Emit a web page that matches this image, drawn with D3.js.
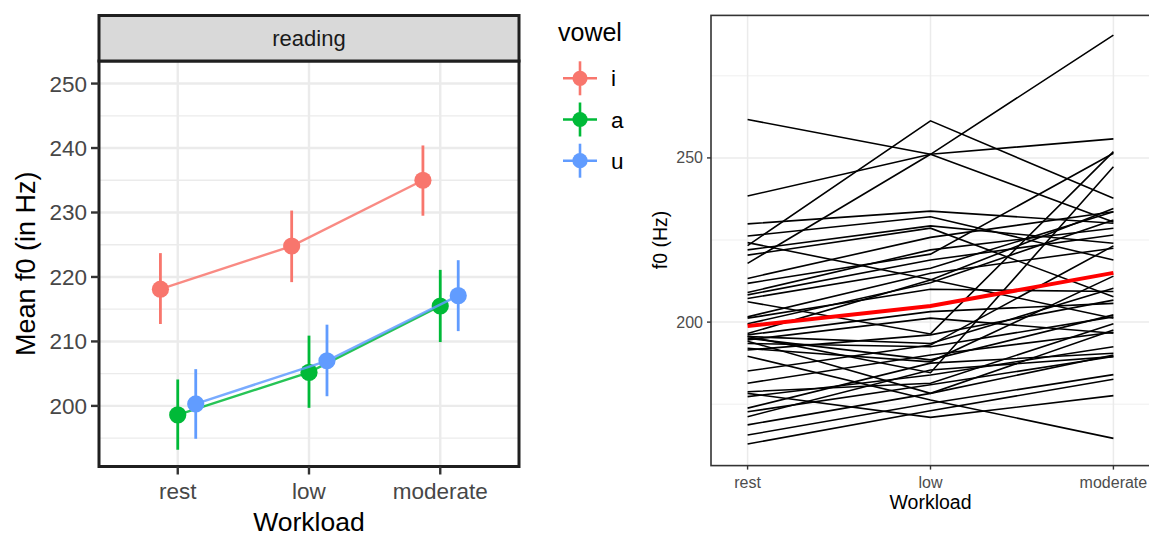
<!DOCTYPE html>
<html>
<head>
<meta charset="utf-8">
<script src="https://cdn.jsdelivr.net/npm/d3@7"></script>
<style>
  body { margin: 0; background: #fff; }
  svg { display: block; }
  text { font-family: "Liberation Sans", Arial, sans-serif; }
</style>
</head>
<body>
<svg id="chart" width="1149" height="536"></svg>
<script>
// ---- data ---------------------------------------------------------------
const workload = ["rest", "low", "moderate"];

// panel A: mean f0 per vowel with error bars (reading task)
const vowels = ["i", "a", "u"];
const vowelColors = ["#F8766D", "#00BA38", "#619CFF"];
const meanI = [218.1, 224.8, 235.0];
const lowI  = [212.7, 219.2, 229.5];
const highI = [223.7, 230.3, 240.4];
const meanA = [198.6, 205.2, 215.5];
const lowA  = [193.2, 199.7, 209.9];
const highA = [204.1, 210.9, 221.1];
const meanU = [200.3, 207.0, 217.1];
const lowU  = [194.9, 201.5, 211.6];
const highU = [205.7, 212.6, 222.6];
const leftYTicks = [200, 210, 220, 230, 240, 250];

// panel B: one line per speaker, f0 at each workload level
const restF0 = [261.7, 238.4, 217.9, 223.3, 229.9, 226.2, 224.2, 222.0, 220.4, 213.3,
                211.8, 206.2, 208.3, 207.2, 209.0, 201.6, 201.2, 199.5, 196.5, 196.1,
                195.6, 195.6, 195.1, 194.6, 194.2, 193.5, 192.0, 191.5, 189.6, 185.1,
                181.4, 178.8, 178.3, 177.3, 173.8, 172.7, 171.2, 168.7, 165.6, 162.9];
const lowF0  = [251.1, 251.1, 251.1, 261.3, 233.8, 232.1, 213.0, 229.3, 228.6, 225.8,
                220.7, 196.4, 218.9, 216.4, 222.0, 214.9, 210.0, 212.0, 212.8, 203.2,
                184.6, 193.5, 188.5, 201.2, 178.3, 192.5, 187.9, 196.1, 176.3, 193.0,
                190.0, 181.4, 171.0, 183.9, 187.5, 180.9, 185.4, 178.3, 175.3, 173.0];
const modF0  = [230.5, 255.8, 287.4, 237.7, 230.1, 218.9, 201.2, 224.0, 207.7, 233.6,
                251.4, 251.9, 226.5, 233.6, 228.6, 222.5, 209.3, 231.1, 234.6, 205.7,
                247.3, 210.3, 202.2, 196.6, 197.6, 201.6, 214.0, 206.7, 164.6, 223.2,
                196.9, 199.5, 177.6, 192.5, 190.5, 189.5, 189.5, 190.0, 184.0, 182.6];
const trendF0 = [198.8, 204.9, 215.0];
const rightYMajor = [200, 250];
const rightYMinor = [175, 225, 275];

// ---- setup --------------------------------------------------------------
const svg = d3.select("#chart");
const GRID = "#EBEBEB";

// ======================= panel A =========================================
const A = { x0: 99, x1: 519, y0: 61, y1: 466.5, stripTop: 15.5 };
const ax = d3.scaleLinear().domain([0.4, 3.6]).range([A.x0, A.x1]);
const ay = d3.scaleLinear().domain([190.6, 253.5]).range([A.y1, A.y0]);
const gA = svg.append("g");

// minor then major grid
const minorA = d3.range(195, 255, 10);
gA.selectAll("line.minor").data(minorA).join("line")
  .attr("x1", A.x0).attr("x2", A.x1)
  .attr("y1", d => ay(d)).attr("y2", d => ay(d))
  .attr("stroke", GRID).attr("stroke-width", 1.3);
gA.selectAll("line.majorY").data(leftYTicks).join("line")
  .attr("x1", A.x0).attr("x2", A.x1)
  .attr("y1", d => ay(d)).attr("y2", d => ay(d))
  .attr("stroke", GRID).attr("stroke-width", 2.4);
gA.selectAll("line.majorX").data(workload).join("line")
  .attr("x1", (d, i) => ax(i + 1)).attr("x2", (d, i) => ax(i + 1))
  .attr("y1", A.y0).attr("y2", A.y1)
  .attr("stroke", GRID).attr("stroke-width", 2.4);

// series with dodge
const series = [
  { name: "i", mean: meanI, lo: lowI, hi: highI, color: vowelColors[0], dodge: -0.132 },
  { name: "a", mean: meanA, lo: lowA, hi: highA, color: vowelColors[1], dodge: 0 },
  { name: "u", mean: meanU, lo: lowU, hi: highU, color: vowelColors[2], dodge: 0.137 }
];
const lineA = d3.line().x(d => ax(d.x)).y(d => ay(d.y));
series.forEach(s => {
  const pts = s.mean.map((v, i) => ({ x: i + 1 + s.dodge, y: v, lo: s.lo[i], hi: s.hi[i] }));
  gA.append("path").datum(pts).attr("d", lineA)
    .attr("fill", "none").attr("stroke", s.color).attr("stroke-width", 2.4)
    .attr("stroke-opacity", 0.85);
  gA.selectAll(null).data(pts).join("line")
    .attr("x1", d => ax(d.x)).attr("x2", d => ax(d.x))
    .attr("y1", d => ay(d.lo)).attr("y2", d => ay(d.hi))
    .attr("stroke", s.color).attr("stroke-width", 2.8);
  gA.selectAll(null).data(pts).join("circle")
    .attr("cx", d => ax(d.x)).attr("cy", d => ay(d.y)).attr("r", 8.6)
    .attr("fill", s.color);
});

// panel border and strip
gA.append("rect").attr("x", A.x0).attr("y", A.y0)
  .attr("width", A.x1 - A.x0).attr("height", A.y1 - A.y0)
  .attr("fill", "none").attr("stroke", "#1F1F1F").attr("stroke-width", 3);
gA.append("rect").attr("x", A.x0).attr("y", A.stripTop)
  .attr("width", A.x1 - A.x0).attr("height", A.y0 - A.stripTop)
  .attr("fill", "#D9D9D9").attr("stroke", "#1F1F1F").attr("stroke-width", 3);
gA.append("text").attr("x", (A.x0 + A.x1) / 2).attr("y", (A.stripTop + A.y0) / 2 + 7.5)
  .attr("text-anchor", "middle").attr("font-size", 22).attr("fill", "#1A1A1A")
  .text("reading");

// y axis
gA.selectAll("line.ytick").data(leftYTicks).join("line")
  .attr("x1", A.x0 - 8).attr("x2", A.x0)
  .attr("y1", d => ay(d)).attr("y2", d => ay(d))
  .attr("stroke", "#333333").attr("stroke-width", 2.4);
gA.selectAll("text.ylab").data(leftYTicks).join("text")
  .attr("x", A.x0 - 12).attr("y", d => ay(d) + 8)
  .attr("text-anchor", "end").attr("font-size", 22.5).attr("fill", "#474747")
  .text(d => d);
// x axis
gA.selectAll("line.xtick").data(workload).join("line")
  .attr("x1", (d, i) => ax(i + 1)).attr("x2", (d, i) => ax(i + 1))
  .attr("y1", A.y1).attr("y2", A.y1 + 8)
  .attr("stroke", "#333333").attr("stroke-width", 2.4);
gA.selectAll("text.xlab").data(workload).join("text")
  .attr("x", (d, i) => ax(i + 1)).attr("y", A.y1 + 32)
  .attr("text-anchor", "middle").attr("font-size", 22.5).attr("fill", "#474747")
  .text(d => d);
gA.append("text").attr("x", (A.x0 + A.x1) / 2).attr("y", 531)
  .attr("text-anchor", "middle").attr("font-size", 26.5).attr("fill", "#000")
  .text("Workload");
gA.append("text").attr("transform", `translate(35,${(A.y0 + A.y1) / 2}) rotate(-90)`)
  .attr("text-anchor", "middle").attr("font-size", 27).attr("fill", "#000")
  .text("Mean f0 (in Hz)");

// legend
const leg = svg.append("g");
leg.append("text").attr("x", 558).attr("y", 41).attr("font-size", 25).attr("fill", "#000")
  .text("vowel");
const legY = d3.scalePoint().domain(vowels).range([78.3, 160.7]);
vowels.forEach((v, i) => {
  const cy = legY(v), cx = 580;
  leg.append("line").attr("x1", cx - 17).attr("x2", cx + 17).attr("y1", cy).attr("y2", cy)
    .attr("stroke", vowelColors[i]).attr("stroke-width", 2.4);
  leg.append("line").attr("x1", cx).attr("x2", cx).attr("y1", cy - 17).attr("y2", cy + 17)
    .attr("stroke", vowelColors[i]).attr("stroke-width", 2.6);
  leg.append("circle").attr("cx", cx).attr("cy", cy).attr("r", 7.6).attr("fill", vowelColors[i]);
  leg.append("text").attr("x", 611).attr("y", cy + 8).attr("font-size", 22.5).attr("fill", "#000")
    .text(v);
});

// ======================= panel B =========================================
const B = { x0: 711, x1: 1150, y0: 15.4, y1: 465.6 };
const bx = d3.scaleLinear().domain([0.8, 3.2]).range([B.x0, B.x1]);
const by = d3.scaleLinear().domain([156.3, 293.4]).range([B.y1, B.y0]);
const gB = svg.append("g");

gB.selectAll("line.minor").data(rightYMinor).join("line")
  .attr("x1", B.x0).attr("x2", B.x1).attr("y1", d => by(d)).attr("y2", d => by(d))
  .attr("stroke", GRID).attr("stroke-width", 0.8);
gB.selectAll("line.major").data(rightYMajor).join("line")
  .attr("x1", B.x0).attr("x2", B.x1).attr("y1", d => by(d)).attr("y2", d => by(d))
  .attr("stroke", GRID).attr("stroke-width", 1.5);
gB.selectAll("line.majorX").data(workload).join("line")
  .attr("x1", (d, i) => bx(i + 1)).attr("x2", (d, i) => bx(i + 1))
  .attr("y1", B.y0).attr("y2", B.y1)
  .attr("stroke", GRID).attr("stroke-width", 1.5);

const lineB = d3.line().x((d, i) => bx(i + 1)).y(d => by(d));
const speakers = restF0.map((r, k) => [r, lowF0[k], modF0[k]]);
gB.selectAll("path.speaker").data(speakers).join("path")
  .attr("d", lineB).attr("fill", "none")
  .attr("stroke", "#000").attr("stroke-width", 1.6);
gB.append("path").datum(trendF0).attr("d", lineB).attr("fill", "none")
  .attr("stroke", "#FF0000").attr("stroke-width", 4);

gB.append("rect").attr("x", B.x0).attr("y", B.y0)
  .attr("width", B.x1 - B.x0).attr("height", B.y1 - B.y0)
  .attr("fill", "none").attr("stroke", "#333333").attr("stroke-width", 1.6);

gB.selectAll("line.ytick").data(rightYMajor).join("line")
  .attr("x1", B.x0 - 4).attr("x2", B.x0).attr("y1", d => by(d)).attr("y2", d => by(d))
  .attr("stroke", "#333333").attr("stroke-width", 1.4);
gB.selectAll("text.ylab").data(rightYMajor).join("text")
  .attr("x", B.x0 - 8).attr("y", d => by(d) + 5.5)
  .attr("text-anchor", "end").attr("font-size", 16).attr("fill", "#4D4D4D")
  .text(d => d);
gB.selectAll("line.xtick").data(workload).join("line")
  .attr("x1", (d, i) => bx(i + 1)).attr("x2", (d, i) => bx(i + 1))
  .attr("y1", B.y1).attr("y2", B.y1 + 4)
  .attr("stroke", "#333333").attr("stroke-width", 1.4);
gB.selectAll("text.xlab").data(workload).join("text")
  .attr("x", (d, i) => bx(i + 1)).attr("y", B.y1 + 22)
  .attr("text-anchor", "middle").attr("font-size", 16).attr("fill", "#4D4D4D")
  .text(d => d);
gB.append("text").attr("x", bx(2)).attr("y", 509)
  .attr("text-anchor", "middle").attr("font-size", 19.5).attr("fill", "#000")
  .text("Workload");
gB.append("text").attr("transform", `translate(667,240) rotate(-90)`)
  .attr("text-anchor", "middle").attr("font-size", 19.5).attr("fill", "#000")
  .text("f0 (Hz)");
</script>
</body>
</html>
